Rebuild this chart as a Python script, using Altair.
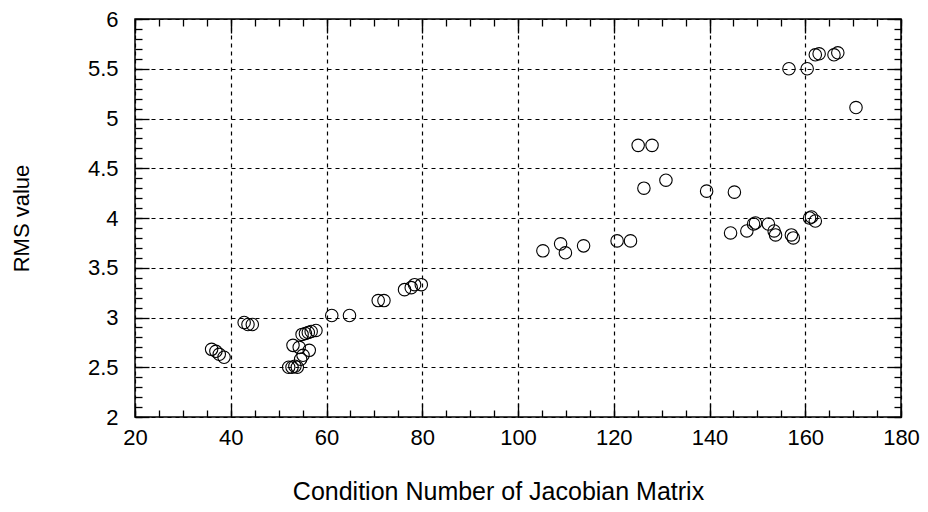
import altair as alt
import pandas as pd

# Data
cond_number = [36.0, 36.9, 37.6, 38.6, 42.8, 43.6, 44.5,
               52.1, 52.8, 53.4, 53.9, 54.6, 53.0, 54.3, 56.4, 55.1,
               54.9, 55.6, 56.2, 56.8, 57.8,
               61.1, 64.8, 70.8, 72.0, 76.3, 77.7, 78.4, 79.8,
               105.2, 108.9, 109.9, 113.7, 120.7, 123.5,
               125.1, 128.0, 126.3, 130.9, 139.4, 145.2,
               144.4, 147.8, 149.2, 149.6, 152.3, 153.5, 153.8, 157.1, 157.5,
               160.9, 161.3, 162.1,
               156.6, 160.4, 162.1, 162.9, 166.0, 166.8, 170.6]
rms_value = [2.68, 2.66, 2.63, 2.60, 2.95, 2.93, 2.93,
             2.50, 2.50, 2.51, 2.50, 2.58, 2.72, 2.70, 2.67, 2.62,
             2.83, 2.84, 2.85, 2.86, 2.87,
             3.02, 3.02, 3.17, 3.17, 3.28, 3.30, 3.33, 3.33,
             3.67, 3.74, 3.65, 3.72, 3.77, 3.77,
             4.73, 4.73, 4.30, 4.38, 4.27, 4.26,
             3.85, 3.87, 3.94, 3.95, 3.94, 3.87, 3.83, 3.83, 3.80,
             4.00, 4.01, 3.97,
             5.50, 5.50, 5.64, 5.65, 5.64, 5.66, 5.11]

x_major = [20, 40, 60, 80, 100, 120, 140, 160, 180]
x_minor = list(range(20, 181, 5))
y_major = [2, 2.5, 3, 3.5, 4, 4.5, 5, 5.5, 6]
y_minor = [round(2 + 0.1 * i, 1) for i in range(41)]

df = pd.DataFrame({"cond": cond_number, "rms": rms_value})

W, H = 766, 398
FONT = "Liberation Sans"
xs = alt.Scale(domain=[20, 180], nice=False, zero=False)
ys = alt.Scale(domain=[2, 6], nice=False, zero=False)

base = alt.Chart(df)

points = base.mark_point(shape="circle", filled=False, size=155,
                         color="black", strokeWidth=1.1, opacity=1).encode(
    x=alt.X("cond:Q", scale=xs, title="Condition Number of Jacobian Matrix",
            axis=alt.Axis(orient="bottom", values=x_major, format="d",
                          grid=True, gridColor="black", gridDash=[4, 4],
                          gridWidth=1.2, ticks=False, tickSize=0, domain=False,
                          labelFont=FONT, labelFontSize=22, labelColor="black",
                          labelPadding=10, titleFont=FONT, titleFontSize=25,
                          titleFontWeight="normal", titleColor="black",
                          titlePadding=31, titleX=W / 2 - 20,
                          labelFlush=False)),
    y=alt.Y("rms:Q", scale=ys, title="RMS value",
            axis=alt.Axis(orient="left", values=y_major,
                          labelExpr="format(datum.value, '')",
                          grid=True, gridColor="black", gridDash=[4, 4],
                          gridWidth=1.2, ticks=False, tickSize=0, domain=False,
                          labelFont=FONT, labelFontSize=22, labelColor="black",
                          labelPadding=17, titleFont=FONT, titleFontSize=22,
                          titleFontWeight="normal", titleColor="black",
                          titlePadding=54, labelFlush=False)),
)


def tick_layer(xorient, yorient, xvals, yvals, size):
    return base.mark_point(opacity=0).encode(
        x=alt.X("cond:Q", scale=xs, title=None,
                axis=alt.Axis(orient=xorient, offset=-H, values=xvals,
                              labels=False, grid=False, domain=False,
                              ticks=True, tickSize=size, tickColor="black",
                              tickWidth=1.3)),
        y=alt.Y("rms:Q", scale=ys, title=None,
                axis=alt.Axis(orient=yorient, offset=-W, values=yvals,
                              labels=False, grid=False, domain=False,
                              ticks=True, tickSize=size, tickColor="black",
                              tickWidth=1.3)),
    )


layers = [
    points,
    tick_layer("top", "right", x_minor, y_minor, 7),      # bottom & left edges
    tick_layer("bottom", "left", x_minor, y_minor, 7),    # top & right edges
    tick_layer("top", "right", x_major, y_major, 14),
    tick_layer("bottom", "left", x_major, y_major, 14),
]

chart = alt.layer(*layers).resolve_axis(
    x="independent", y="independent"
).properties(
    width=W, height=H,
    autosize=alt.AutoSizeParams(type="none"),
    padding={"left": 127, "top": 11, "right": 19, "bottom": 87},
    background="white",
).configure_view(
    stroke="black", strokeWidth=1.5
)

chart.save("out.html", embed_options={"renderer": "svg", "actions": False})
